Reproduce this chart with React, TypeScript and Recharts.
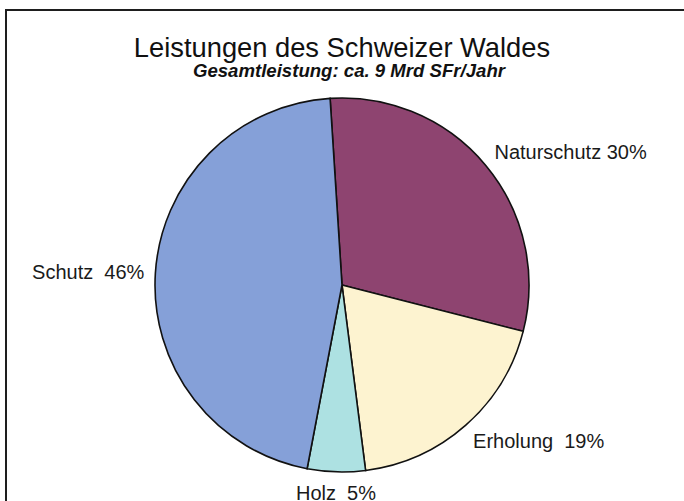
import React from "react";
import { PieChart, Pie, Cell } from "recharts";

const categories = ["Naturschutz", "Erholung", "Holz", "Schutz"];
const shares = [30, 19, 5, 46];
const labelTexts = ["Naturschutz 30%", "Erholung  19%", "Holz  5%", "Schutz  46%"];
const colors = ["#8E4470", "#FDF3D0", "#ADE1E2", "#85A0D8"];

const titleText = "Leistungen des Schweizer Waldes";
const subtitleText = "Gesamtleistung: ca. 9 Mrd SFr/Jahr";

const data = categories.map((name, i) => ({ name, value: shares[i], label: labelTexts[i] }));

const RADIAN = Math.PI / 180;

const renderLabel = (props: any) => {
  const { cx, cy, midAngle, outerRadius, index } = props;
  const r = outerRadius + 11;
  const cos = Math.cos(midAngle * RADIAN);
  const sin = Math.sin(midAngle * RADIAN);
  const x = cx + r * cos;
  const y = cy - r * sin - sin * 10;
  const anchor = cos > 0.2 ? "start" : cos < -0.2 ? "end" : "middle";
  return (
    <text
      x={x}
      y={y}
      textAnchor={anchor}
      dominantBaseline="central"
      fill="#1a1a1a"
      fontSize={20}
      fontFamily="'Liberation Sans', Arial, sans-serif"
      style={{ whiteSpace: "pre" }}
    >
      {labelTexts[index]}
    </text>
  );
};

export default function App() {
  return (
    <div
      style={{
        position: "absolute",
        left: 0,
        top: 0,
        width: 684,
        height: 501,
        overflow: "hidden",
        background: "#fff",
      }}
    >
      <div
        style={{
          position: "absolute",
          left: 5,
          top: 9,
          width: 700,
          height: 600,
          borderTop: "2px solid #1e1e1e",
          borderLeft: "2px solid #1e1e1e",
        }}
      />
      <div style={{ position: "absolute", left: 0, top: 0 }}>
        <PieChart width={684} height={501} margin={{ top: 0, right: 0, bottom: 0, left: 0 }}>
          <Pie
            data={data}
            dataKey="value"
            nameKey="name"
            cx={342}
            cy={285}
            outerRadius={187}
            startAngle={93.65}
            endAngle={-266.35}
            stroke="#111"
            strokeWidth={1.6}
            label={renderLabel}
            labelLine={false}
            isAnimationActive={false}
          >
            {data.map((d, i) => (
              <Cell key={d.name} fill={colors[i]} />
            ))}
          </Pie>
        </PieChart>
      </div>
      <svg
        width={684}
        height={501}
        style={{ position: "absolute", left: 0, top: 0, pointerEvents: "none" }}
      >
        <text
          x={342}
          y={57}
          textAnchor="middle"
          fontSize={27.3}
          fontFamily="'Liberation Sans', Arial, sans-serif"
          fill="#111"
        >
          {titleText}
        </text>
        <text
          x={349}
          y={77}
          textAnchor="middle"
          fontSize={18.6}
          fontStyle="italic"
          fontWeight="bold"
          fontFamily="'Liberation Sans', Arial, sans-serif"
          fill="#111"
        >
          {subtitleText}
        </text>
      </svg>
    </div>
  );
}
